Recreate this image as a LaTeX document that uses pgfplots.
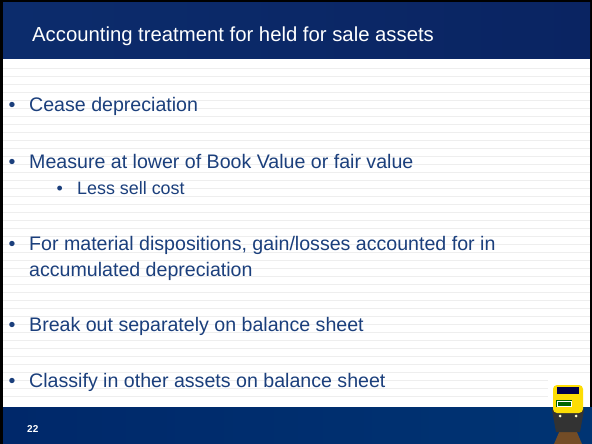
\documentclass[border=0pt]{standalone}
\usepackage{pgfplots}
\pgfplotsset{compat=1.18}
\usepackage{fontspec}
\setmainfont{Liberation Sans}
\definecolor{txt}{HTML}{1B3F7C}
\definecolor{stripe}{HTML}{EEEEEE}
\definecolor{hdrL}{HTML}{0C2C6C}
\definecolor{hdrM}{HTML}{07487F}
\definecolor{hdrR}{HTML}{0A2462}
\definecolor{botL}{HTML}{00286A}
\definecolor{botM}{HTML}{004682}
\definecolor{botR}{HTML}{003473}
\newcommand\bfont{\fontsize{19.6bp}{23bp}\selectfont}
\newcommand\sfont{\fontsize{17.9bp}{21bp}\selectfont}
\begin{document}
\begin{tikzpicture}
\begin{axis}[width=592bp,height=444bp,scale only axis,
  xmin=0,xmax=592,ymin=0,ymax=444,y dir=reverse,hide axis,clip=false]
% frame and background
\fill[black] (0,0) rectangle (592,444);
\fill[white] (3,3) rectangle (590,407);
\pgfplotsinvokeforeach{68.7,76.7,...,396.7}{\draw[stripe,line width=1.5bp] (3,#1) -- (590,#1);}
% header
\shade[left color=hdrL,middle color=hdrM,right color=hdrR] (3,3) rectangle (590,59);
\node[anchor=base west,inner sep=0,text=white,font=\fontsize{20.3bp}{24bp}\selectfont] at (32,41.5) {Accounting treatment for held for sale assets};
% footer
\shade[left color=botL,middle color=botM,right color=botR] (3,407) rectangle (592,444);
\node[anchor=base west,inner sep=0,text=white,font=\fontsize{10bp}{12bp}\selectfont\bfseries] at (27,432) {22};
% bullets
\node[anchor=base west,inner sep=0,text=txt,font=\bfont] at (8.5,111) {•};
\node[anchor=base west,inner sep=0,text=txt,font=\bfont] at (29,111) {Cease depreciation};
\node[anchor=base west,inner sep=0,text=txt,font=\bfont] at (8.5,168) {•};
\node[anchor=base west,inner sep=0,text=txt,font=\bfont] at (29,168) {Measure at lower of Book Value or fair value};
\node[anchor=base west,inner sep=0,text=txt,font=\sfont] at (56.5,194) {•};
\node[anchor=base west,inner sep=0,text=txt,font=\sfont] at (77,194) {Less sell cost};
\node[anchor=base west,inner sep=0,text=txt,font=\bfont] at (8.5,250.7) {•};
\node[anchor=base west,inner sep=0,text=txt,font=\bfont] at (29,250.7) {For material dispositions, gain/losses accounted for in};
\node[anchor=base west,inner sep=0,text=txt,font=\bfont] at (29,276.7) {accumulated depreciation};
\node[anchor=base west,inner sep=0,text=txt,font=\bfont] at (8.5,331) {•};
\node[anchor=base west,inner sep=0,text=txt,font=\bfont] at (29,331) {Break out separately on balance sheet};
\node[anchor=base west,inner sep=0,text=txt,font=\bfont] at (8.5,387) {•};
\node[anchor=base west,inner sep=0,text=txt,font=\bfont] at (29,387) {Classify in other assets on balance sheet};
% locomotive (decorative)
\fill[white] (548,380) rectangle (590,407);
\fill[brown!60!black] (560,430) -- (576,430) -- (582,444) -- (554,444) -- cycle;
\fill[black!80] (552,410) -- (584,410) -- (580,432) -- (556,432) -- cycle;
\fill[yellow!80!orange,rounded corners=4bp] (553,385) rectangle (583,413);
\fill[black!70!blue] (557,387) rectangle (579,394);
\fill[green!40!black] (556,400) rectangle (572,407);
\draw[white,line width=0.6bp] (557,401) rectangle (571,406);
\fill[white!80!yellow] (560,416) circle (1.5);
\fill[white!80!yellow] (576,416) circle (1.5);
\end{axis}
\pgfresetboundingbox
\path (0,0) rectangle (592bp,444bp);
\end{tikzpicture}
\end{document}
